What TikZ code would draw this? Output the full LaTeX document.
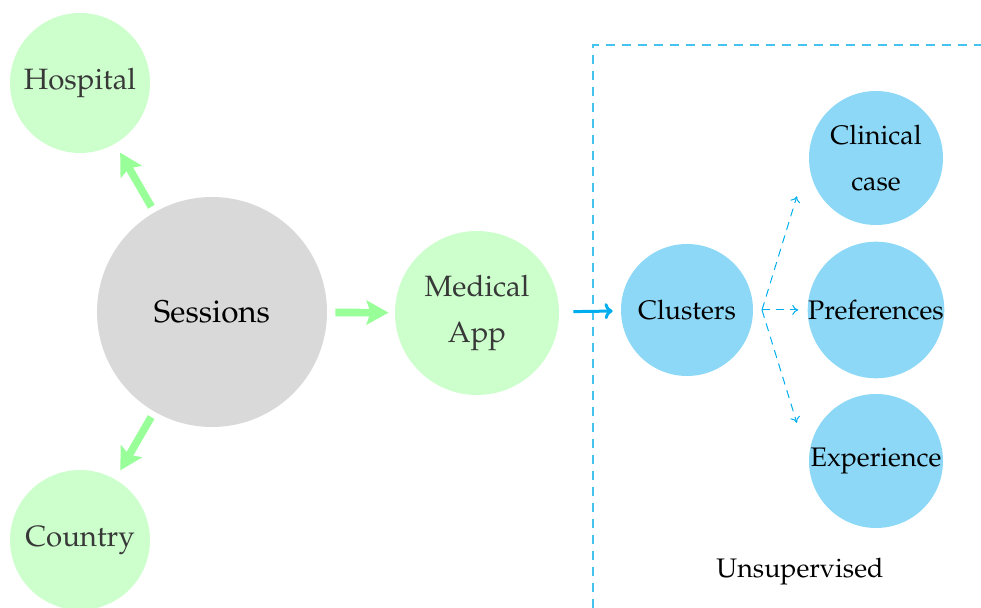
\documentclass[tikz,border=0pt]{standalone}
\usepackage[T1]{fontenc}
\usepackage{mathpazo}
\usepackage{tikz}
\usetikzlibrary{arrows.meta}

\definecolor{appgreen}{RGB}{204,255,204}
\definecolor{arrowgreen}{RGB}{153,255,153}
\definecolor{sessgray}{RGB}{217,217,217}
\definecolor{clusblue}{RGB}{141,216,246}
\definecolor{flowblue}{RGB}{0,174,239}
\definecolor{boxblue}{RGB}{70,196,240}

\begin{document}
\begin{tikzpicture}[x=0.5pt, y=-0.5pt,
  bubble/.style={circle, inner sep=0pt, align=center},
  greenbub/.style={bubble, fill=appgreen, text=black!78, minimum size=70pt,
    font=\fontsize{14.7}{17.6}\selectfont},
  bluebub/.style={bubble, fill=clusblue, text=black, minimum size=67pt,
    font=\fontsize{13.4}{16}\selectfont},
  bigarrow/.style={arrowgreen, line width=3.8pt, -{Stealth[length=11pt,width=12pt,inset=2pt]}},
  subarrow/.style={flowblue, line width=0.5pt, dash pattern=on 4pt off 3pt, -{To[length=3pt,width=5pt]}}]

  \useasboundingbox (0,0) rectangle (981,608);

  % unsupervised box
  \draw[boxblue, line width=0.9pt, dash pattern=on 4.5pt off 3.5pt]
      (593,640) -- (593,45) -- (1000,45);
  \node[font=\fontsize{13.4}{16}\selectfont] (unsup) at (800,572) {Unsupervised};

  % ---- left part ----
  \node[bubble, fill=sessgray, minimum size=115pt, font=\fontsize{15.7}{19}\selectfont]
      (sess) at (212,312) {Sessions};
  \node[greenbub] (hosp) at ( 80, 83) {Hospital};
  \node[greenbub] (ctry) at ( 80,540) {Country};
  \node[greenbub, minimum size=82pt] (app) at (477,313) {Medical\\[5.4pt]App};

  % ---- clusters ----
  \node[bluebub, minimum size=66pt] (clus) at (687,310) {Clusters};
  \node[bluebub] (case) at (876,158) {Clinical\\[7pt]case};
  \node[bluebub] (pref) at (876,310) {Preferences};
  \node[bluebub] (expe) at (876,461) {Experience};

  % arrows
  \draw[bigarrow, shorten <=3pt, shorten >=5pt] (sess) -- (hosp);
  \draw[bigarrow, shorten <=3pt, shorten >=5pt] (sess) -- (ctry);
  \draw[bigarrow, shorten <=4pt, shorten >=3pt] (sess) -- (app);
  \draw[flowblue, line width=1.5pt, -{To[length=4pt,width=8pt]}, shorten <=7pt, shorten >=4pt]
      (app) -- (clus);

  \coordinate (split) at (762,310);
  \draw[subarrow, shorten >=20pt] (split) -- (case.west);
  \draw[subarrow, shorten >=4.5pt] (split) -- (pref.west);
  \draw[subarrow, shorten >=20pt] (split) -- (expe.west);

\end{tikzpicture}
\end{document}
